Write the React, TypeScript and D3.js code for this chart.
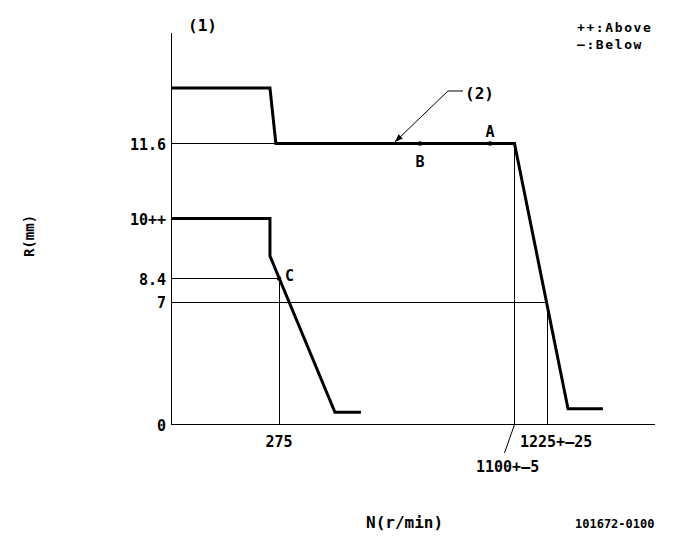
import React from 'react';
import * as d3 from 'd3';

// Schematic (piecewise) axes: break values
const xBreaks = [0, 275, 1100, 1225, 1600];
const yBreaks = [0, 7, 8.4, 10, 11.6, 14];

// Tick labels
const yTickValues = [11.6, 10, 8.4, 7, 0];
const yTickLabels = ['11.6', '10++', '8.4', '7', '0'];

// Upper curve (2)
const upperN = [0, 252, 267, 1100, 1298, 1419];
const upperR = [12.8, 12.8, 11.6, 11.6, 0.9, 0.9];

// Lower curve (1)
const lowerN = [0, 252, 252, 471, 562];
const lowerR = [10, 10, 9.0, 0.7, 0.7];

// Marked points
const pointNames = ['A', 'B', 'C'];
const pointN = [1014, 769, 275];
const pointR = [11.6, 11.6, 8.4];

const FONT = "'DejaVu Sans Mono', monospace";

export default function App() {
  const xs = d3.scaleLinear<number, number>().domain(xBreaks).range([171, 279, 514.5, 547, 655]);
  const ys = d3.scaleLinear<number, number>().domain(yBreaks).range([424.5, 302, 278.5, 218.5, 143.5, 32.5]);

  const line = d3.line<[number, number]>().x(d => xs(d[0])).y(d => ys(d[1]));
  const upper = line(upperN.map((n, i) => [n, upperR[i]] as [number, number])) || '';
  const lower = line(lowerN.map((n, i) => [n, lowerR[i]] as [number, number])) || '';

  const x0 = xs(0);
  const y0 = ys(0);
  const tA = { x: xs(pointN[0]), y: ys(pointR[0]) };
  const tB = { x: xs(pointN[1]), y: ys(pointR[1]) };
  const tC = { x: xs(pointN[2]), y: ys(pointR[2]) };
  const arrowN = 681;
  const tip = { x: xs(arrowN), y: ys(11.6) - 1.5 };
  const elbow = { x: 448, y: 91 };
  const ang = Math.atan2(tip.y - elbow.y, tip.x - elbow.x);
  const ah = 8, aw = 3;
  const ax1 = tip.x - ah * Math.cos(ang) + aw * Math.sin(ang);
  const ay1 = tip.y - ah * Math.sin(ang) - aw * Math.cos(ang);
  const ax2 = tip.x - ah * Math.cos(ang) - aw * Math.sin(ang);
  const ay2 = tip.y - ah * Math.sin(ang) + aw * Math.cos(ang);

  const txt = { fontFamily: FONT, fontWeight: 'bold' as const, fontSize: 15, fill: '#000' };

  return (
    <svg width={681} height={549} style={{ position: 'absolute', left: 0, top: 0, background: '#fff' }}>
      <rect width={681} height={549} fill="#fff" />
      {/* thin guide lines */}
      <g stroke="#000" strokeWidth={1} shapeRendering="crispEdges" fill="none">
        <line x1={x0} y1={ys(14)} x2={x0} y2={y0} />
        <line x1={x0} y1={y0} x2={xs(1600)} y2={y0} />
        <line x1={x0} y1={ys(11.6)} x2={xs(267)} y2={ys(11.6)} />
        <line x1={x0} y1={ys(8.4)} x2={xs(275)} y2={ys(8.4)} />
        <line x1={x0} y1={ys(7)} x2={xs(1225)} y2={ys(7)} />
        <line x1={xs(275)} y1={ys(8.4)} x2={xs(275)} y2={y0} />
        <line x1={xs(1100)} y1={ys(11.6)} x2={xs(1100)} y2={y0} />
        <line x1={xs(1225)} y1={ys(7)} x2={xs(1225)} y2={y0} />
      </g>
      <line x1={xs(1100)} y1={y0} x2={504.5} y2={453} stroke="#000" strokeWidth={1} />
      {/* curves */}
      <path d={upper} fill="none" stroke="#000" strokeWidth={3} strokeLinejoin="miter" />
      <path d={lower} fill="none" stroke="#000" strokeWidth={3} strokeLinejoin="miter" />
      {/* point marks */}
      {[tA, tB, tC].map((p, i) => (
        <circle key={i} cx={p.x} cy={p.y} r={2.2} fill="#000" />
      ))}
      <text {...txt} x={tA.x} y={137} textAnchor="middle">{pointNames[0]}</text>
      <text {...txt} x={tB.x} y={167} textAnchor="middle">{pointNames[1]}</text>
      <text {...txt} x={285} y={281}>{pointNames[2]}</text>
      {/* (2) leader */}
      <polyline points={`${tip.x},${tip.y} ${elbow.x},${elbow.y} 463,${elbow.y}`} fill="none" stroke="#000" strokeWidth={1} />
      <polygon points={`${tip.x},${tip.y} ${ax1},${ay1} ${ax2},${ay2}`} fill="#000" />
      <text {...txt} x={465} y={99} fontSize={16}>(2)</text>
      <text {...txt} x={188} y={31} fontSize={16}>(1)</text>
      {/* legend */}
      <text {...txt} x={577} y={32} fontSize={13} letterSpacing={1.6}>++:Above</text>
      <text {...txt} x={577} y={49} fontSize={13} letterSpacing={1.6}>—:Below</text>
      {/* y tick labels */}
      {yTickValues.map((v, i) => (
        <text key={i} {...txt} x={166} y={ys(v) + 6} textAnchor="end">{yTickLabels[i]}</text>
      ))}
      {/* x tick labels */}
      <text {...txt} x={xs(275)} y={447} textAnchor="middle">275</text>
      <text {...txt} x={520} y={447}>1225+–25</text>
      <text {...txt} x={476} y={472}>1100+–5</text>
      {/* axis titles */}
      <text {...txt} x={366} y={528} fontSize={16}>N(r/min)</text>
      <text {...txt} transform="translate(34,236) rotate(-90)" textAnchor="middle" fontSize={14}>R(mm)</text>
      <text {...txt} x={575} y={528} fontSize={12}>101672-0100</text>
    </svg>
  );
}
